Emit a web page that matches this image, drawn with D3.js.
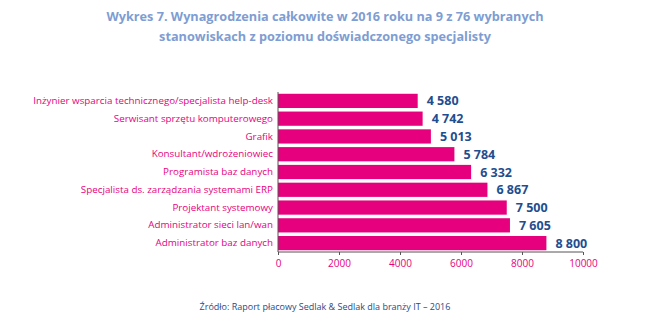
<!DOCTYPE html>
<html>
<head>
<meta charset="utf-8">
<script src="https://cdn.jsdelivr.net/npm/d3@7"></script>
<style>
  html, body { margin: 0; padding: 0; background: #fff; }
  svg { display: block; font-family: "Open Sans", "Noto Sans", sans-serif; }
</style>
</head>
<body>
<svg id="chart" width="650" height="325"></svg>
<script>
// Job titles (top to bottom) and total salaries in PLN
const positions = [
  "Inżynier wsparcia technicznego/specjalista help-desk",
  "Serwisant sprzętu komputerowego",
  "Grafik",
  "Konsultant/wdrożeniowiec",
  "Programista baz danych",
  "Specjalista ds. zarządzania systemami ERP",
  "Projektant systemowy",
  "Administrator sieci lan/wan",
  "Administrator baz danych"
];
const salaries = [4580, 4742, 5013, 5784, 6332, 6867, 7500, 7605, 8800];
const xTicks = [0, 2000, 4000, 6000, 8000, 10000];
const titleLines = [
  "Wykres 7. Wynagrodzenia całkowite w 2016 roku na 9 z 76 wybranych",
  "stanowiskach z poziomu doświadczonego specjalisty"
];
const sourceText = "Źródło: Raport płacowy Sedlak & Sedlak dla branży IT – 2016";

const pink = "#e6007e";
const navy = "#1f4e8f";

const svg = d3.select("#chart");
const margin = { left: 278, right: 67, top: 92, bottom: 73 };
const W = 650, H = 325;

const x = d3.scaleLinear().domain([0, 10000]).range([margin.left, W - margin.right]);
const y = d3.scaleBand().domain(positions).range([margin.top, H - margin.bottom]).paddingInner(0.2).paddingOuter(0.1);

// Title
svg.append("g").selectAll("text").data(titleLines).join("text")
  .attr("x", 325).attr("y", (d, i) => 21 + i * 20)
  .attr("text-anchor", "middle")
  .attr("font-size", 12.7).attr("font-weight", 700)
  .attr("fill", "#7e9dd2")
  .text(d => d);

// Bars
svg.append("g").selectAll("rect").data(salaries).join("rect")
  .attr("x", x(0))
  .attr("y", (d, i) => y(positions[i]))
  .attr("width", d => x(d) - x(0))
  .attr("height", y.bandwidth())
  .attr("fill", pink);

// Value labels with a space as thousands separator
const fmt = v => d3.format(",")(v).replace(/,/g, " ");
svg.append("g").selectAll("text").data(salaries).join("text")
  .attr("x", d => x(d) + 9)
  .attr("y", (d, i) => y(positions[i]) + y.bandwidth() / 2)
  .attr("dy", "0.36em")
  .attr("font-size", 12.5).attr("font-weight", 700)
  .attr("fill", navy)
  .text(fmt);

// Category axis
const yAxis = svg.append("g").attr("transform", `translate(${x(0)},0)`)
  .call(d3.axisLeft(y).tickSize(0).tickPadding(5));
yAxis.select(".domain").attr("stroke", "#555").attr("d", `M0,${margin.top}V${H - margin.bottom}`);
yAxis.selectAll("text").attr("fill", pink).attr("font-size", 9.8)
  .attr("font-family", "Open Sans, Noto Sans, sans-serif");

// Value axis
const xAxis = svg.append("g").attr("transform", `translate(0,${H - margin.bottom})`)
  .call(d3.axisBottom(x).tickValues(xTicks).tickSize(3).tickPadding(5).tickFormat(d3.format("d")));
xAxis.select(".domain").attr("stroke", "#555").attr("d", `M${x(0)},0H${x(10000)}`);
xAxis.selectAll("line").attr("stroke", "#555");
xAxis.selectAll("text").attr("fill", pink).attr("font-size", 10)
  .attr("font-family", "Open Sans, Noto Sans, sans-serif");

// Source note
svg.append("text")
  .attr("x", 325).attr("y", 310)
  .attr("text-anchor", "middle")
  .attr("font-size", 9).attr("fill", "#2b4a86")
  .text(sourceText);
</script>
</body>
</html>
